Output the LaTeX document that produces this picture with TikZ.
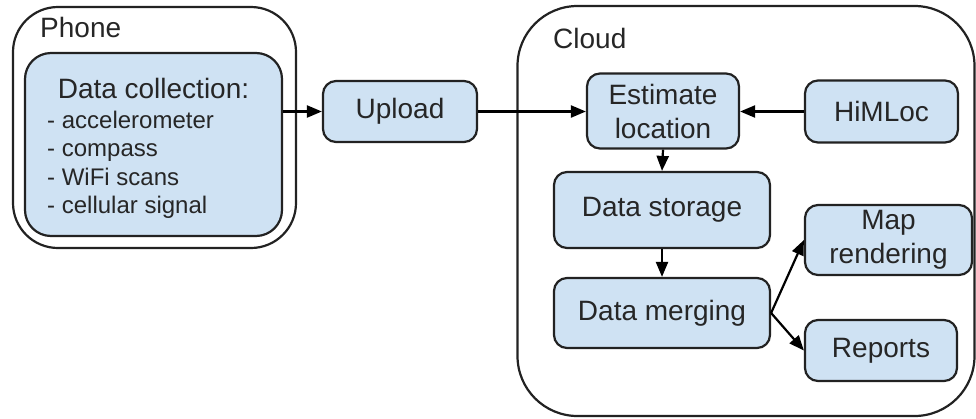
\documentclass[tikz,border=0pt]{standalone}
\usepackage{fontspec}
\setmainfont{Liberation Sans}
\usetikzlibrary{arrows.meta}
\definecolor{boxfill}{HTML}{CFE2F3}
\definecolor{edgecol}{HTML}{222222}
\tikzset{
  container/.style={draw=edgecol, line width=2.2pt, rounded corners=45pt, inner sep=0pt},
  procbox/.style={draw=edgecol, fill=boxfill, line width=2.2pt, rounded corners=13pt, inner sep=0pt, align=center, font=\fontsize{28}{34}\selectfont, text=black!85},
  biglabel/.style={font=\fontsize{28}{34}\selectfont, text=black!85, inner sep=0pt},
  listlabel/.style={font=\fontsize{24}{28.6}\selectfont, text=black!85, inner sep=0pt, align=left},
  flow/.style={draw=black, line width=2.2pt, -{Triangle[length=15pt,width=12pt]}}
}
\begin{document}
\begin{tikzpicture}[x=1pt,y=-1pt]
\useasboundingbox (0,0) rectangle (976,418);
% containers
\node[container, minimum width=283pt, minimum height=241pt] (phone) at (154.5,127.5) {};
\node[container, rounded corners=60pt, minimum width=457pt, minimum height=410pt] (cloud) at (746,211) {};
\node[biglabel, anchor=base west] (phonelbl) at (40,37) {Phone};
\node[biglabel, anchor=base west] (cloudlbl) at (553,48) {Cloud};
% phone content
\node[procbox, rounded corners=26pt, minimum width=257pt, minimum height=183pt] (dc) at (153.5,144.5) {};
\node[biglabel, anchor=base] (dctitle) at (153.5,98) {Data collection:};
\node[listlabel, anchor=north west] (dclist) at (47,110.5) {- accelerometer\\- compass\\- WiFi scans\\- cellular signal};
% nodes
\node[procbox, minimum width=154pt, minimum height=61pt] (up) at (400,111.5) {Upload};
\node[procbox, minimum width=152pt, minimum height=75pt] (est) at (663,111) {Estimate\\location};
\node[procbox, minimum width=153pt, minimum height=62pt] (him) at (881.5,111.5) {HiMLoc};
\node[procbox, minimum width=216pt, minimum height=76pt] (store) at (662,210) {Data storage};
\node[procbox, minimum width=216pt, minimum height=70pt] (merge) at (662,313) {Data merging};
\node[procbox, minimum width=167pt, minimum height=70pt] (map) at (888.5,240) {Map\\rendering};
\node[procbox, minimum width=152pt, minimum height=61pt] (rep) at (881,350.5) {Reports};
% arrows
\draw[flow] (dc.east |- up.west) -- (up.west);
\draw[flow] (up.east) -- (est.west |- up.east);
\draw[flow] (him.west) -- (est.east |- him.west);
\draw[flow] (est.south) -- (store.north);
\draw[flow] (store.south) -- (merge.north);
\draw[flow] (merge.east) -- (map.west);
\draw[flow] (merge.east) -- (rep.west);
\end{tikzpicture}
\end{document}
